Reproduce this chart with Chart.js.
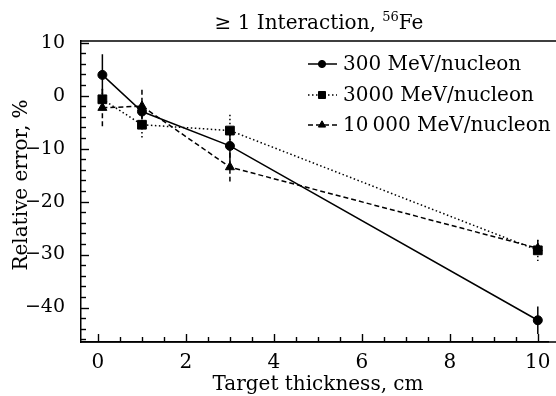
<!DOCTYPE html>
<html>
<head>
<meta charset="utf-8">
<script src="https://cdn.jsdelivr.net/npm/chart.js@4"></script>
<style>
  html, body { margin: 0; padding: 0; background: #fff; }
</style>
</head>
<body>
<canvas id="myChart" width="556" height="396"></canvas>
<script>
// target thickness, cm
const thickness = [0.1, 1, 3, 10];
// relative error, %, and its uncertainty
const err300 = [3.9, -3.0, -9.5, -42.4];
const sd300 = [3.9, 1.5, 3.0, 2.6];
const err3000 = [-0.7, -5.5, -6.6, -29.2];
const sd3000 = [2.0, 2.4, 3.0, 2.0];
const err10000 = [-2.3, -2.0, -13.5, -28.8];
const sd10000 = [3.5, 3.1, 2.7, 1.5];
const seriesLabels = ['300 MeV/nucleon', '3000 MeV/nucleon', '10\u2009000 MeV/nucleon'];
const xTicks = [0, 2, 4, 6, 8, 10];
const yTicks = [10, 0, -10, -20, -30, -40];

const FONT = '"DejaVu Serif", "Liberation Serif", serif';

function pts(ys) {
    return thickness.map((x, i) => ({ x: x, y: ys[i] }));
}

// error bars, drawn with the same dash as the line
const errorBars = {
    id: 'errorBars',
    afterDatasetsDraw(chart) {
        const c = chart.ctx;
        const xs = chart.scales.x, ys = chart.scales.y;
        chart.data.datasets.forEach(ds => {
            c.save();
            c.strokeStyle = '#000';
            c.lineWidth = 1.5;
            c.setLineDash(ds.borderDash || []);
            ds.data.forEach((p, i) => {
                const px = xs.getPixelForValue(p.x);
                c.beginPath();
                c.moveTo(px, ys.getPixelForValue(p.y + ds.sd[i]));
                c.lineTo(px, ys.getPixelForValue(p.y - ds.sd[i]));
                c.stroke();
            });
            c.restore();
        });
    }
};

// inward ticks and the top / bottom frame lines
const axisTicks = {
    id: 'axisTicks',
    afterDraw(chart) {
        const c = chart.ctx;
        const a = chart.chartArea;
        const xs = chart.scales.x, ys = chart.scales.y;
        c.save();
        c.setLineDash([]);
        c.strokeStyle = '#000';
        c.lineWidth = 1.5;
        c.beginPath();
        c.moveTo(a.left, a.top);
        c.lineTo(chart.width, a.top);
        c.moveTo(a.left, a.bottom);
        c.lineTo(chart.width, a.bottom);
        c.stroke();
        c.lineWidth = 1.4;
        for (let k = 0; k <= 20; k++) {
            const px = Math.round(xs.getPixelForValue(k / 2)) + 0.5;
            const len = (k % 4 === 0) ? 8 : 5;
            c.beginPath();
            c.moveTo(px, a.bottom);
            c.lineTo(px, a.bottom - len);
            c.stroke();
        }
        for (let v = -46; v <= 10; v += 2) {
            const py = Math.round(ys.getPixelForValue(v)) + 0.5;
            const len = (v % 10 === 0) ? 8 : 5;
            c.beginPath();
            c.moveTo(a.left, py);
            c.lineTo(a.left + len, py);
            c.stroke();
        }
        c.restore();
    }
};

// title, axis titles and legend
const texts = {
    id: 'texts',
    afterDraw(chart) {
        const c = chart.ctx;
        c.save();
        c.fillStyle = '#000';
        c.textBaseline = 'alphabetic';
        c.textAlign = 'left';
        const big = '20px ' + FONT, small = '13px ' + FONT;
        const t1 = '\u2265 1 Interaction, ', t2 = '56', t3 = 'Fe';
        c.font = big;
        const w1 = c.measureText(t1).width;
        const w3 = c.measureText(t3).width;
        c.font = small;
        const w2 = c.measureText(t2).width;
        const tx = 319 - (w1 + w2 + w3) / 2;
        c.font = big;
        c.fillText(t1, tx, 29);
        c.font = small;
        c.fillText(t2, tx + w1, 21);
        c.font = big;
        c.fillText(t3, tx + w1 + w2, 29);

        c.textAlign = 'center';
        c.fillText('Target thickness, cm', 318, 390);
        c.save();
        c.translate(27, 185);
        c.rotate(-Math.PI / 2);
        c.fillText('Relative error, %', 0, 0);
        c.restore();

        const rows = [64, 95, 125];
        c.font = '20px ' + FONT;
        c.textBaseline = 'middle';
        chart.data.datasets.forEach((ds, i) => {
            const y = rows[i];
            c.save();
            c.strokeStyle = '#000';
            c.lineWidth = 1.5;
            c.setLineDash(ds.borderDash || []);
            c.beginPath();
            c.moveTo(308, y);
            c.lineTo(337, y);
            c.stroke();
            c.restore();
            Chart.helpers.drawPoint(c, {
                pointStyle: ds.pointStyle,
                radius: ds.pointRadius * 0.8,
                borderWidth: 1
            }, 322, y);
            c.fillStyle = '#000';
            c.textAlign = 'left';
            c.fillText(ds.label, 343, y + 1);
        });
        c.restore();
    }
};

function series(label, ys, sd, dash, style, r) {
    return {
        label: label,
        data: pts(ys),
        sd: sd,
        borderColor: '#000',
        backgroundColor: '#000',
        borderWidth: 1.5,
        borderDash: dash,
        pointStyle: style,
        pointRadius: r,
        pointBorderWidth: 1,
        pointBackgroundColor: '#000',
        pointBorderColor: '#000',
        tension: 0
    };
}

const myChart = new Chart(document.getElementById('myChart'), {
    type: 'line',
    data: {
        datasets: [
            series(seriesLabels[0], err300, sd300, [], 'circle', 4.5),
            series(seriesLabels[1], err3000, sd3000, [1.5, 2.5], 'rect', 6.2),
            series(seriesLabels[2], err10000, sd10000, [5, 3], 'triangle', 5.2)
        ]
    },
    options: {
        responsive: false,
        animation: false,
        layout: { padding: { top: 41, right: 0, left: 0, bottom: 0 } },
        plugins: {
            legend: { display: false },
            tooltip: { enabled: false },
            title: { display: false }
        },
        scales: {
            x: {
                type: 'linear',
                min: -0.386,
                max: 10.25,
                afterBuildTicks: s => { s.ticks = xTicks.map(v => ({ value: v })); },
                afterFit: s => { s.height = 54; },
                grid: { display: false },
                border: { display: true, color: '#000', width: 1.5 },
                ticks: {
                    color: '#000',
                    padding: 1,
                    maxRotation: 0,
                    font: { family: FONT, size: 20 },
                    callback: v => String(v)
                }
            },
            y: {
                type: 'linear',
                min: -46.5,
                max: 10.3,
                afterBuildTicks: s => { s.ticks = yTicks.map(v => ({ value: v })); },
                afterFit: s => { s.width = 81; },
                grid: { display: false },
                border: { display: true, color: '#000', width: 1.5 },
                ticks: {
                    color: '#000',
                    padding: 8,
                    font: { family: FONT, size: 19 },
                    callback: v => String(v).replace('-', '\u2212')
                }
            }
        }
    },
    plugins: [errorBars, axisTicks, texts]
});
</script>
</body>
</html>
